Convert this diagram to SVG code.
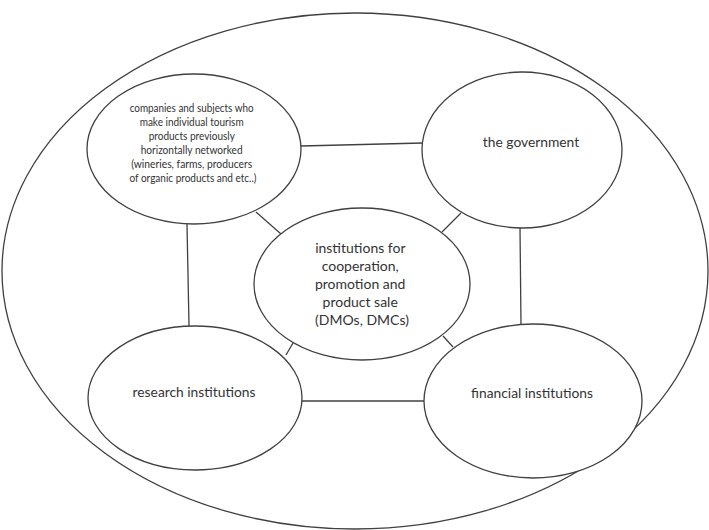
<svg xmlns="http://www.w3.org/2000/svg" width="709" height="530" viewBox="0 0 709 530">
  <style>
    .shape { fill: #ffffff; stroke: #404040; stroke-width: 1.3; }
    .link { stroke: #404040; stroke-width: 1.3; fill: none; }
    .label { font-family: Lato, "Open Sans", "Liberation Sans", sans-serif; fill: #333333; text-anchor: middle; }
    .small { font-size: 10.5px; }
    .mid { font-size: 13.8px; }
    .big { font-size: 14px; }
  </style>
  <rect width="709" height="530" fill="#ffffff"/>

  <!-- outer boundary -->
  <g id="boundary">
    <ellipse class="shape" cx="355" cy="271" rx="353" ry="258"/>
  </g>

  <!-- connectors -->
  <g id="connectors">
    <line class="link" x1="301" y1="146" x2="423" y2="143"/>
    <line class="link" x1="187" y1="224" x2="189" y2="326"/>
    <line class="link" x1="520" y1="228" x2="521" y2="324"/>
    <line class="link" x1="302" y1="401" x2="424" y2="401"/>
    <line class="link" x1="256" y1="212" x2="281" y2="234"/>
    <line class="link" x1="461" y1="213" x2="442" y2="232"/>
    <line class="link" x1="293" y1="343" x2="286" y2="355"/>
    <line class="link" x1="443" y1="336" x2="453" y2="347"/>
  </g>

  <g id="producers">
    <ellipse class="shape" cx="194" cy="149" rx="107" ry="75"/>
    <text class="label small" x="193" lengthAdjust="spacingAndGlyphs">
      <tspan x="193" y="112" textLength="124" lengthAdjust="spacingAndGlyphs">companies and subjects who</tspan>
      <tspan x="193" y="126" textLength="104" lengthAdjust="spacingAndGlyphs">make individual tourism</tspan>
      <tspan x="193" y="140" textLength="86" lengthAdjust="spacingAndGlyphs">products previously</tspan>
      <tspan x="193" y="154" textLength="102" lengthAdjust="spacingAndGlyphs">horizontally networked</tspan>
      <tspan x="193" y="168" textLength="121" lengthAdjust="spacingAndGlyphs">(wineries, farms, producers</tspan>
      <tspan x="193" y="182" textLength="127" lengthAdjust="spacingAndGlyphs">of organic products and etc..)</tspan>
    </text>
  </g>

  <g id="government">
    <ellipse class="shape" cx="522" cy="150" rx="100" ry="78"/>
    <text class="label mid" x="531" y="147">the government</text>
  </g>

  <g id="dmo">
    <ellipse class="shape" cx="362" cy="284" rx="108" ry="76"/>
    <text class="label big" x="362">
      <tspan x="362" y="253">institutions for</tspan>
      <tspan x="362" y="271">cooperation,</tspan>
      <tspan x="362" y="289">promotion and</tspan>
      <tspan x="362" y="307">product sale</tspan>
      <tspan x="362" y="325">(DMOs, DMCs)</tspan>
    </text>
  </g>

  <g id="research">
    <ellipse class="shape" cx="195" cy="398" rx="107" ry="72"/>
    <text class="label mid" x="194" y="397">research institutions</text>
  </g>

  <g id="financial">
    <ellipse class="shape" cx="533" cy="401" rx="109" ry="77"/>
    <text class="label mid" x="532" y="398">financial institutions</text>
  </g>
</svg>
